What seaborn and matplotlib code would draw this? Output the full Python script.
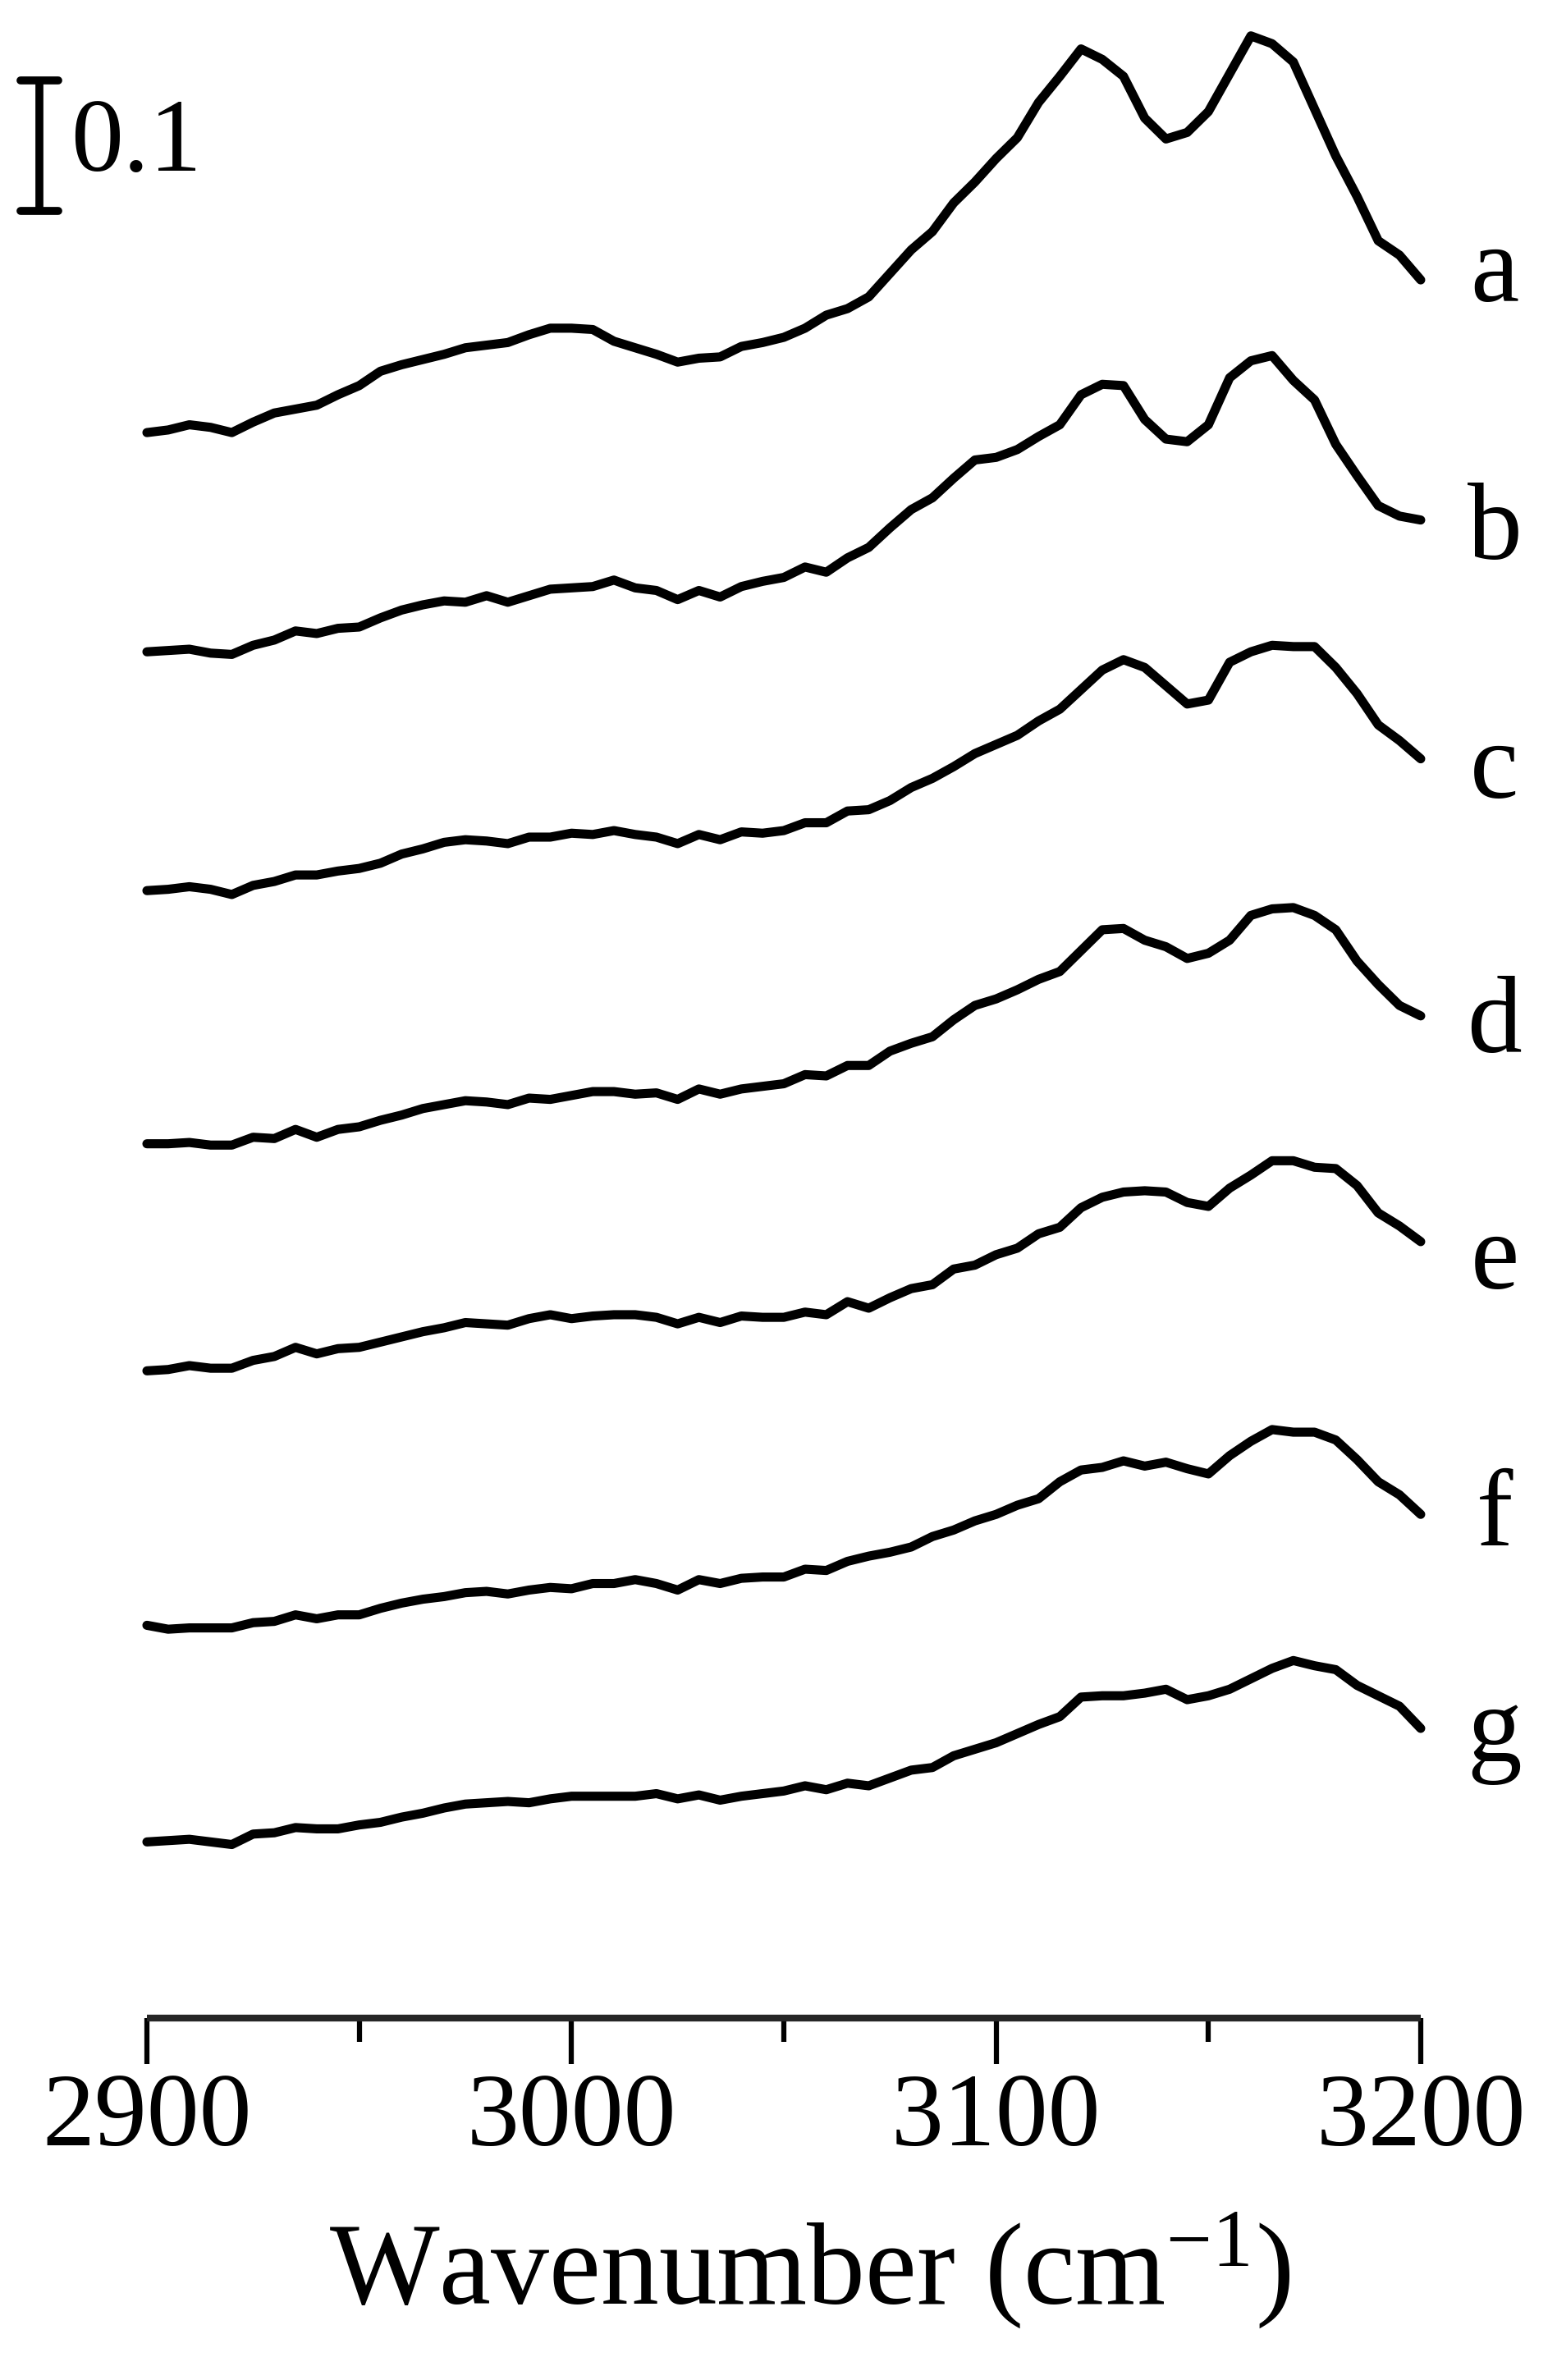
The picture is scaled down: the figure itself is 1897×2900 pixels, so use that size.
import numpy as np
import pandas as pd
import matplotlib
matplotlib.use("Agg")
import matplotlib.pyplot as plt
from matplotlib.ticker import MultipleLocator
import seaborn as sns

# wavenumber grid (cm-1) and absorbance of each spectrum relative to its value at 2900
wavenumber = np.arange(2900, 3201, 5)

spec_a = [0, 0.002, 0.006, 0.004, 0.000, 0.008, 0.015, 0.018, 0.021, 0.029,
          0.036, 0.047, 0.052, 0.056, 0.060, 0.065, 0.067, 0.069, 0.075, 0.080,
          0.080, 0.079, 0.070, 0.065, 0.060, 0.054, 0.057, 0.058, 0.066, 0.069,
          0.073,
          0.080, 0.090, 0.095, 0.104, 0.122, 0.140, 0.154, 0.176, 0.192, 0.210,
          0.226, 0.253, 0.273, 0.294, 0.286, 0.273, 0.241, 0.225, 0.230, 0.246,
          0.275, 0.304, 0.298, 0.284, 0.248, 0.212, 0.181, 0.147, 0.136, 0.117]
spec_b = [0, 0.001, 0.002, -0.001, -0.002, 0.005, 0.009, 0.016, 0.014, 0.018,
          0.019, 0.026, 0.032, 0.036, 0.039, 0.038, 0.043, 0.038, 0.043, 0.048,
          0.049, 0.050, 0.055, 0.049, 0.047, 0.040, 0.047, 0.042, 0.050, 0.054,
          0.057,
          0.065, 0.061, 0.072, 0.080, 0.095, 0.109, 0.118, 0.133, 0.147, 0.149,
          0.155, 0.165, 0.174, 0.197, 0.205, 0.204, 0.178, 0.163, 0.161, 0.174,
          0.210, 0.223, 0.227, 0.208, 0.193, 0.159, 0.135, 0.112, 0.104, 0.101]
spec_c = [0, 0.001, 0.003, 0.001, -0.003, 0.004, 0.007, 0.012, 0.012, 0.015,
          0.017, 0.021, 0.028, 0.032, 0.037, 0.039, 0.038, 0.036, 0.041, 0.041,
          0.044, 0.043, 0.046, 0.043, 0.041, 0.036, 0.043, 0.039, 0.045, 0.044,
          0.046,
          0.052, 0.052, 0.061, 0.062, 0.069, 0.079, 0.086, 0.095, 0.105, 0.112,
          0.119, 0.130, 0.139, 0.154, 0.169, 0.177, 0.171, 0.157, 0.143, 0.146,
          0.175, 0.183, 0.188, 0.187, 0.187, 0.171, 0.151, 0.127, 0.115, 0.101]
spec_d = [0, 0, 0.001, -0.001, -0.001, 0.005, 0.004, 0.011, 0.005, 0.011,
          0.013, 0.018, 0.022, 0.027, 0.030, 0.033, 0.032, 0.030, 0.035, 0.034,
          0.037, 0.040, 0.040, 0.038, 0.039, 0.034, 0.042, 0.038, 0.042, 0.044,
          0.046,
          0.053, 0.052, 0.060, 0.060, 0.071, 0.077, 0.082, 0.095, 0.106, 0.111,
          0.118, 0.126, 0.132, 0.148, 0.164, 0.165, 0.156, 0.151, 0.142, 0.146,
          0.156, 0.175, 0.180, 0.181, 0.175, 0.164, 0.140, 0.122, 0.106, 0.098]
spec_e = [0, 0.001, 0.004, 0.002, 0.002, 0.008, 0.011, 0.018, 0.013, 0.017,
          0.018, 0.022, 0.026, 0.030, 0.033, 0.037, 0.036, 0.035, 0.040, 0.043,
          0.040, 0.042, 0.043, 0.043, 0.041, 0.036, 0.041, 0.037, 0.042, 0.041,
          0.041,
          0.045, 0.043, 0.053, 0.048, 0.056, 0.063, 0.066, 0.078, 0.081, 0.089,
          0.094, 0.105, 0.110, 0.125, 0.133, 0.137, 0.138, 0.137, 0.129, 0.126,
          0.140, 0.150, 0.161, 0.161, 0.156, 0.155, 0.142, 0.121, 0.111, 0.099]
spec_f = [0, -0.003, -0.002, -0.002, -0.002, 0.002, 0.003, 0.008, 0.005, 0.008,
          0.008, 0.013, 0.017, 0.020, 0.022, 0.025, 0.026, 0.024, 0.027, 0.029,
          0.028, 0.032, 0.032, 0.035, 0.032, 0.027, 0.035, 0.032, 0.036, 0.037,
          0.037,
          0.043, 0.042, 0.049, 0.053, 0.056, 0.060, 0.068, 0.073, 0.080, 0.085,
          0.092, 0.097, 0.110, 0.119, 0.121, 0.126, 0.122, 0.125, 0.120, 0.116,
          0.130, 0.141, 0.150, 0.148, 0.148, 0.142, 0.127, 0.110, 0.100, 0.085]
spec_g = [0, 0.001, 0.002, 0.000, -0.002, 0.006, 0.007, 0.011, 0.010, 0.010,
          0.013, 0.015, 0.019, 0.022, 0.026, 0.029, 0.030, 0.031, 0.030, 0.033,
          0.035, 0.035, 0.035, 0.035, 0.037, 0.033, 0.036, 0.032, 0.035, 0.037,
          0.039,
          0.043, 0.040, 0.045, 0.043, 0.049, 0.055, 0.057, 0.066, 0.071, 0.076,
          0.083, 0.090, 0.096, 0.111, 0.112, 0.112, 0.114, 0.117, 0.109, 0.112,
          0.117, 0.125, 0.133, 0.139, 0.135, 0.132, 0.120, 0.112, 0.104, 0.087]

labels = ["a", "b", "c", "d", "e", "f", "g"]
offsets = [1.215, 1.047, 0.864, 0.670, 0.496, 0.301, 0.135]
spectra = [spec_a, spec_b, spec_c, spec_d, spec_e, spec_f, spec_g]

rows = []
for lab, off, sp in zip(labels, offsets, spectra):
    for w, v in zip(wavenumber, sp):
        rows.append({"wavenumber": w, "absorbance": v + off, "sample": lab})
df = pd.DataFrame(rows)

sns.set_style("white")
plt.rcParams["font.family"] = ["Liberation Serif", "DejaVu Serif"]
plt.rcParams["mathtext.fontset"] = "custom"
plt.rcParams["mathtext.rm"] = "Liberation Serif"
plt.rcParams["mathtext.it"] = "Liberation Serif"
plt.rcParams["text.color"] = "black"
plt.rcParams["axes.labelcolor"] = "black"
plt.rcParams["xtick.color"] = "black"

fig = plt.figure(figsize=(18.97, 29.0), dpi=100)
ax = fig.add_axes([0, (2900 - 2459) / 2900, 1, 2459 / 2900])

sns.lineplot(data=df, x="wavenumber", y="absorbance", units="sample",
             estimator=None, color="black", linewidth=8, ax=ax,
             solid_joinstyle="round", solid_capstyle="round")

ax.set_xlim(2865.4, 3232.1)
ax.set_ylim(0, 1.5465)

# scale bar 0.1 absorbance
bar_x, bar_top = 2874.7, 1.485
ax.plot([bar_x, bar_x], [bar_top - 0.1, bar_top], color="black", lw=7,
        solid_capstyle="butt", clip_on=False)
for yy in (bar_top - 0.1, bar_top):
    ax.plot([bar_x - 4.5, bar_x + 4.5], [yy, yy], color="black", lw=7,
            solid_capstyle="round", clip_on=False)
ax.text(2882.0, bar_top - 0.05, "0.1", fontsize=92, va="center", ha="left")

# curve letters, baseline just under the end of each trace
label_drop = [0.016, 0.030, 0.030, 0.028, 0.036, 0.024, 0.026]
for lab, off, sp, dy in zip(labels, offsets, spectra, label_drop):
    ax.text(3217.4, off + sp[-1] - dy, lab, fontsize=96, ha="center",
            va="baseline")

for s in ("left", "right", "top"):
    ax.spines[s].set_visible(False)
ax.spines["bottom"].set_bounds(2900, 3200)
ax.spines["bottom"].set_linewidth(6)
ax.spines["bottom"].set_capstyle("butt")

ax.set_yticks([])
ax.xaxis.set_major_locator(MultipleLocator(100))
ax.xaxis.set_minor_locator(MultipleLocator(50))
ax.tick_params(axis="x", which="major", direction="out", length=40, width=4.5,
               labelsize=92, pad=8, bottom=True)
ax.tick_params(axis="x", which="minor", direction="out", length=21, width=4.5,
               bottom=True)
ax.set_xticks([2900, 3000, 3100, 3200])
ax.set_xticklabels(["2900", "3000", "3100", "3200"])
ax.set_xlabel("Wavenumber (cm$^{-1}$)", fontsize=102)
ax.xaxis.set_label_coords(0.52, -0.095)
ax.set_ylabel("")
ax.grid(False)

fig.savefig("out.png", dpi=100)
